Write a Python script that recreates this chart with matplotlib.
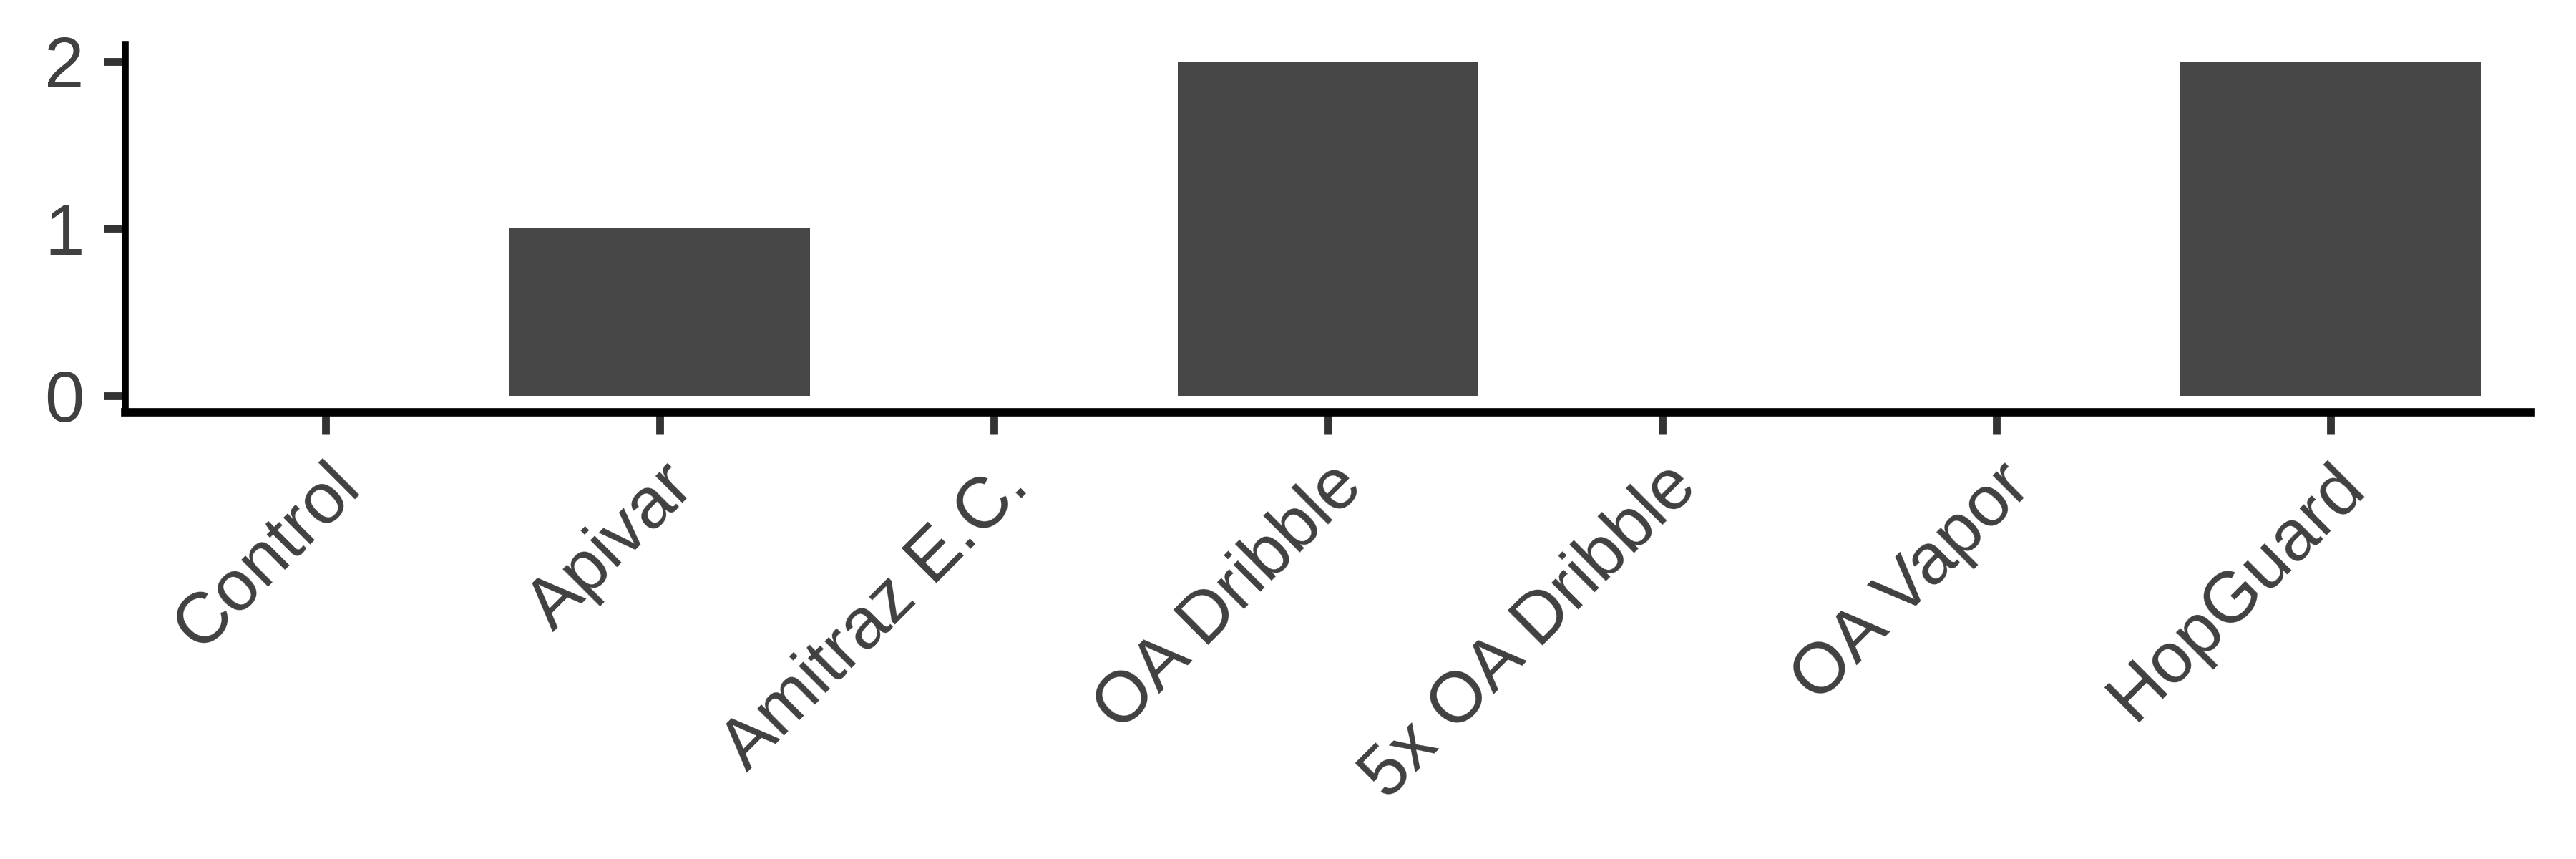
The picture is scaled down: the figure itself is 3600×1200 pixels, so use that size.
import matplotlib
matplotlib.use("Agg")
import matplotlib.pyplot as plt
import matplotlib.transforms as mtransforms

categories = ["Control", "Apivar", "Amitraz E.C.", "OA Dribble", "5x OA Dribble", "OA Vapor", "HopGuard"]
values = [0, 1, 0, 2, 0, 0, 2]
yticks = [0, 1, 2]

plt.rcParams['font.family'] = ['Liberation Sans', 'DejaVu Sans']

fig = plt.figure(figsize=(12, 4), dpi=300)
ax = fig.add_axes([0.0486, 0.52, 0.9339, 0.428])

x = list(range(len(categories)))
ax.bar(x, values, width=0.9, color="#474747", edgecolor="none")

ax.set_xlim(-0.6, len(categories) - 1 + 0.6)
ax.set_ylim(-0.1, 2.1)
ax.set_yticks(yticks)
ax.set_yticklabels([str(v) for v in yticks])
ax.set_xticks(x)
ax.set_xticklabels(categories, rotation=45, ha="right", va="top", rotation_mode="anchor")

for s in ["top", "right"]:
    ax.spines[s].set_visible(False)
ax.spines["left"].set_linewidth(2.3)
ax.spines["bottom"].set_linewidth(2.8)
ax.spines["left"].set_color("black")
ax.spines["bottom"].set_color("black")

ax.tick_params(axis="both", colors="#333333", labelcolor="#404040", labelsize=24,
               length=7.2, width=2.6)
ax.tick_params(axis="y", pad=6.5)
ax.tick_params(axis="x", pad=6)

fig.savefig("out.png", dpi=300, facecolor="white")
